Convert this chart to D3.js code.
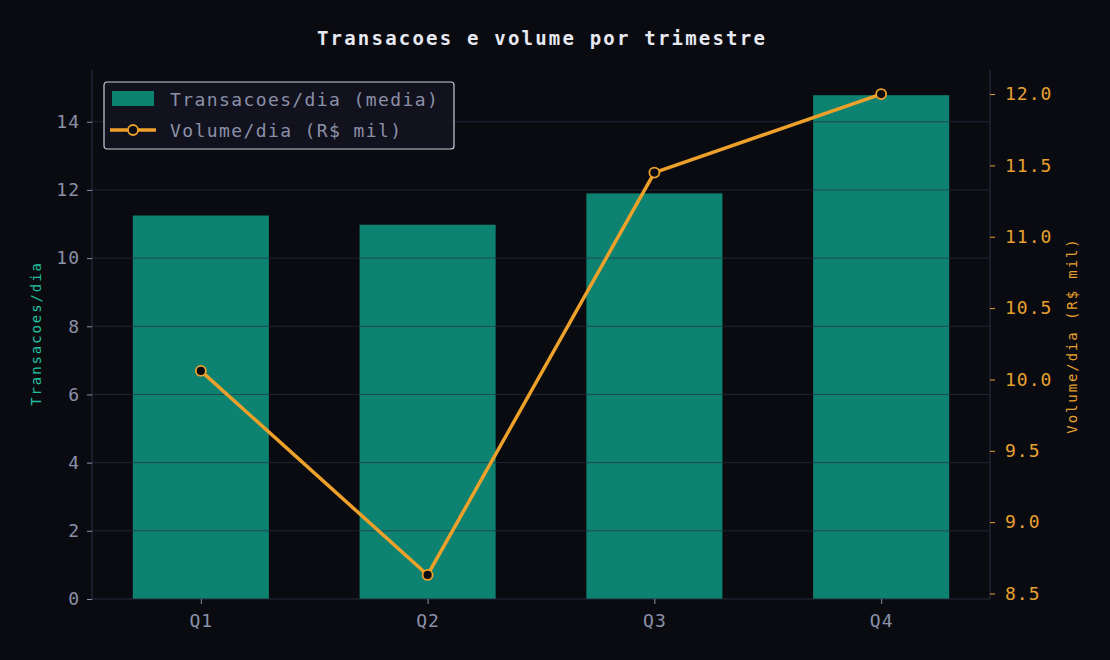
<!DOCTYPE html>
<html>
<head>
<meta charset="utf-8">
<script src="https://cdn.jsdelivr.net/npm/d3@7"></script>
<style>
  body { margin: 0; background: #0a0b10; }
  svg { display: block; }
  text { font-family: "DejaVu Sans Mono", "Liberation Mono", monospace; }
</style>
</head>
<body>
<script>
// data
const quarters = ['Q1', 'Q2', 'Q3', 'Q4']
const transacoes = [11.25, 10.98, 11.9, 14.78]
const volume = [10.06, 8.63, 11.45, 12.0]
const leftTicks = [0, 2, 4, 6, 8, 10, 12, 14]
const rightTicks = [8.5, 9.0, 9.5, 10.0, 10.5, 11.0, 11.5, 12.0]

const W = 1110, H = 660
const margin = {top: 70, right: 120, bottom: 61, left: 92}
const width = W - margin.left - margin.right
const height = H - margin.top - margin.bottom

const svg = d3.select('body').append('svg')
  .attr('width', W).attr('height', H)

svg.append('rect').attr('width', W).attr('height', H).attr('fill', '#0a0b10')

svg.append('text')
  .attr('x', margin.left + width / 2 + 1).attr('y', 45)
  .attr('text-anchor', 'middle')
  .attr('fill', '#e6e8f2')
  .style('font-size', '19px').style('font-weight', 'bold').style('letter-spacing', '2.2px')
  .text('Transacoes e volume por trimestre')

const g = svg.append('g').attr('transform', `translate(${margin.left},${margin.top})`)

// x as a linear index scale with a small margin like matplotlib
const x = d3.scaleLinear().domain([-0.48, 3.48]).range([0, width])
const barW = x(0.6) - x(0)

const yMax = d3.max(transacoes) * 1.05
const yL = d3.scaleLinear().domain([0, yMax]).range([height, 0])
const vExt = d3.extent(volume), vPad = (vExt[1] - vExt[0]) * 0.05
const yR = d3.scaleLinear().domain([vExt[0] - vPad, vExt[1] + vPad]).range([height, 0])

// bars
g.selectAll('.bar')
  .data(transacoes)
  .enter().append('rect')
  .attr('class', 'bar')
  .attr('x', (d, i) => x(i) - barW / 2)
  .attr('width', barW)
  .attr('y', d => yL(d))
  .attr('height', d => height - yL(d))
  .attr('fill', '#0e8270')

// grid (drawn over bars, faint)
g.append('g')
  .selectAll('line')
  .data(leftTicks.filter(t => t > 0))
  .enter().append('line')
  .attr('x1', 0).attr('x2', width)
  .attr('y1', d => yL(d)).attr('y2', d => yL(d))
  .attr('stroke', '#2a2e44').attr('stroke-opacity', 0.7).attr('stroke-width', 1)

// spines
g.append('line').attr('x1', 0).attr('x2', 0).attr('y1', 0).attr('y2', height)
  .attr('stroke', '#262a3c').attr('stroke-width', 1.2)
g.append('line').attr('x1', width).attr('x2', width).attr('y1', 0).attr('y2', height)
  .attr('stroke', '#262a3c').attr('stroke-width', 1.2)
g.append('line').attr('x1', 0).attr('x2', width).attr('y1', height).attr('y2', height)
  .attr('stroke', '#262a3c').attr('stroke-width', 1.2)

// left axis
const axL = g.append('g')
  .call(d3.axisLeft(yL).tickValues(leftTicks).tickSize(5).tickPadding(7).tickFormat(d3.format('d')))
axL.select('.domain').remove()
axL.selectAll('line').attr('stroke', '#8a8fa6')
axL.selectAll('text').attr('fill', '#8b90a8').style('font-size', '18px').style('letter-spacing', '1px')

// right axis
const axR = g.append('g').attr('transform', `translate(${width},0)`)
  .call(d3.axisRight(yR).tickValues(rightTicks).tickSize(5).tickPadding(10).tickFormat(d3.format('.1f')))
axR.select('.domain').remove()
axR.selectAll('line').attr('stroke', '#e8a030')
axR.selectAll('text').attr('fill', '#e8a030').style('font-size', '18px').style('letter-spacing', '1px')

// bottom axis
const axB = g.append('g').attr('transform', `translate(0,${height})`)
  .call(d3.axisBottom(x).tickValues(d3.range(quarters.length)).tickSize(5).tickPadding(10).tickFormat(i => quarters[i]))
axB.select('.domain').remove()
axB.selectAll('line').attr('stroke', '#8a8fa6')
axB.selectAll('text').attr('fill', '#8b90a8').style('font-size', '18px').style('letter-spacing', '1px')

// axis labels
svg.append('text')
  .attr('transform', `translate(41,${margin.top + height / 2 - 1}) rotate(-90)`)
  .attr('text-anchor', 'middle')
  .attr('fill', '#22c0a0').style('font-size', '14px').style('letter-spacing', '1.9px')
  .text('Transacoes/dia')

svg.append('text')
  .attr('transform', `translate(1077,${margin.top + height / 2 + 1}) rotate(-90)`)
  .attr('text-anchor', 'middle')
  .attr('fill', '#e8a030').style('font-size', '14px').style('letter-spacing', '1.9px')
  .text('Volume/dia (R$ mil)')

// volume line
const line = d3.line().x((d, i) => x(i)).y(d => yR(d))
g.append('path').datum(volume)
  .attr('d', line)
  .attr('fill', 'none')
  .attr('stroke', '#eea12a').attr('stroke-width', 3.5)
  .attr('stroke-linejoin', 'round')

g.selectAll('.pt')
  .data(volume)
  .enter().append('circle')
  .attr('class', 'pt')
  .attr('cx', (d, i) => x(i)).attr('cy', d => yR(d))
  .attr('r', 5)
  .attr('fill', '#0a0b10')
  .attr('stroke', '#eea12a').attr('stroke-width', 1.8)

// legend
const lg = svg.append('g').attr('transform', 'translate(104,82)')
lg.append('rect').attr('width', 350).attr('height', 67).attr('rx', 3)
  .attr('fill', '#121420').attr('fill-opacity', 0.92)
  .attr('stroke', '#c9ccd6').attr('stroke-width', 1.2)
lg.append('rect').attr('x', 8).attr('y', 9).attr('width', 42).attr('height', 15).attr('fill', '#0e8270')
lg.append('line').attr('x1', 6).attr('x2', 52).attr('y1', 48).attr('y2', 48)
  .attr('stroke', '#eea12a').attr('stroke-width', 3.5)
lg.append('circle').attr('cx', 29).attr('cy', 48).attr('r', 5)
  .attr('fill', '#0a0b10').attr('stroke', '#eea12a').attr('stroke-width', 1.8)
lg.append('text').attr('x', 66).attr('y', 24).attr('fill', '#8b90a8').style('font-size', '18px').style('letter-spacing', '1.4px')
  .text('Transacoes/dia (media)')
lg.append('text').attr('x', 66).attr('y', 55).attr('fill', '#8b90a8').style('font-size', '18px').style('letter-spacing', '1.4px')
  .text('Volume/dia (R$ mil)')
</script>
</body>
</html>
